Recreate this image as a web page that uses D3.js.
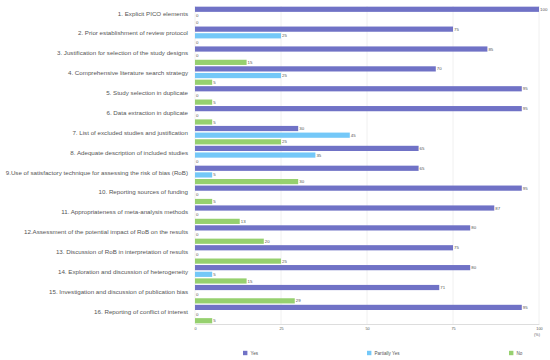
<!DOCTYPE html>
<html>
<head>
<meta charset="utf-8">
<script src="https://cdn.jsdelivr.net/npm/d3@7"></script>
<style>
  body { margin: 0; background: #fff; }
  svg text { font-family: "Liberation Sans", Arial, sans-serif; fill: #555; }
</style>
</head>
<body>
<div id="chart"></div>
<script>
const categories = [
  '1. Explicit PICO elements',
  '2. Prior establishment of review protocol',
  '3. Justification for selection of the study designs',
  '4. Comprehensive literature search strategy',
  '5. Study selection in duplicate',
  '6. Data extraction in duplicate',
  '7. List of excluded studies and justification',
  '8. Adequate description of included studies',
  '9.Use of satisfactory technique for assessing the risk of bias (RoB)',
  '10. Reporting sources of funding',
  '11. Appropriateness of meta-analysis methods',
  '12.Assessment of the potential impact of RoB on the results',
  '13. Discussion of RoB in interpretation of results',
  '14. Exploration and discussion of heterogeneity',
  '15. Investigation and discussion of publication bias',
  '16. Reporting of conflict of interest'
]
const seriesNames = ['Yes', 'Partially Yes', 'No']
const yesValues = [100, 75, 85, 70, 95, 95, 30, 65, 65, 95, 87, 80, 75, 80, 71, 95]
const partialValues = [0, 25, 0, 25, 0, 0, 45, 35, 5, 0, 0, 0, 0, 5, 0, 0]
const noValues = [0, 0, 15, 5, 5, 5, 25, 0, 30, 5, 13, 20, 25, 15, 29, 5]
const xTicks = [0, 25, 50, 75, 100]
const colors = ['#7072c6', '#74c8f8', '#96d06f']

const drawChart = () => {
  const width = 550
  const height = 360
  const margin = { top: 6, right: 11, bottom: 36, left: 195 }
  const innerWidth = width - margin.left - margin.right
  const innerHeight = height - margin.top - margin.bottom

  const svg = d3.select('#chart')
    .append('svg')
    .attr('width', width)
    .attr('height', height)

  const g = svg.append('g')
    .attr('transform', `translate(${margin.left}, ${margin.top})`)

  // Scales
  const x = d3.scaleLinear().domain([0, 100]).range([0, innerWidth])
  const y0 = d3.scaleBand().domain(categories).range([0, innerHeight]).padding(0)
  const y1 = d3.scaleBand().domain(seriesNames).range([0, y0.bandwidth()]).paddingInner(0.22).paddingOuter(0.1)

  const seriesValues = [yesValues, partialValues, noValues]
  const rows = categories.map((c, i) => ({
    cat: c,
    vals: seriesNames.map((s, j) => ({ s, j, v: seriesValues[j][i] }))
  }))

  // Gridlines
  g.append('g')
    .selectAll('line')
    .data(xTicks)
    .join('line')
    .attr('x1', d => x(d))
    .attr('x2', d => x(d))
    .attr('y1', 0)
    .attr('y2', innerHeight)
    .attr('stroke', '#ececec')
    .attr('stroke-width', 0.8)

  // Bottom axis
  const xAxis = g.append('g')
    .attr('transform', `translate(0, ${innerHeight})`)
    .call(d3.axisBottom(x).tickValues(xTicks).tickSize(0).tickPadding(3))
  xAxis.select('.domain').attr('stroke', '#ddd')
  xAxis.selectAll('text').attr('font-size', 3.8).attr('fill', '#777')

  g.append('text')
    .attr('x', innerWidth - 2)
    .attr('y', innerHeight + 12)
    .attr('text-anchor', 'middle')
    .attr('font-size', 3.8)
    .text('(%)')

  // Category labels
  g.append('g')
    .selectAll('text')
    .data(categories)
    .join('text')
    .attr('x', -7)
    .attr('y', d => y0(d) + y0.bandwidth() / 2 - 2.5)
    .attr('dy', '0.35em')
    .attr('text-anchor', 'end')
    .attr('font-size', 6.2)
    .text(d => d)

  // Bars
  const groups = g.append('g')
    .selectAll('g')
    .data(rows)
    .join('g')
    .attr('transform', d => `translate(0, ${y0(d.cat)})`)

  groups.selectAll('rect')
    .data(d => d.vals)
    .join('rect')
    .attr('x', 0)
    .attr('y', d => y1(d.s))
    .attr('width', d => x(d.v))
    .attr('height', y1.bandwidth())
    .attr('fill', d => colors[d.j])

  groups.selectAll('text')
    .data(d => d.vals)
    .join('text')
    .attr('x', d => x(d.v) + 1)
    .attr('y', d => y1(d.s) + y1.bandwidth() / 2)
    .attr('dy', '0.35em')
    .attr('font-size', 4.4)
    .text(d => d.v)

  // Legend
  const legendX = [48, 172, 314]
  const legend = svg.append('g')
    .selectAll('g')
    .data(seriesNames)
    .join('g')
    .attr('transform', (d, i) => `translate(${margin.left + legendX[i]}, 353)`)

  legend.append('rect')
    .attr('x', 0)
    .attr('y', -2.2)
    .attr('width', 4.4)
    .attr('height', 4.4)
    .attr('fill', (d, i) => colors[i])

  legend.append('text')
    .attr('x', 7.5)
    .attr('y', 0)
    .attr('dy', '0.35em')
    .attr('font-size', 4.6)
    .text(d => d)
}

drawChart()
</script>
</body>
</html>
